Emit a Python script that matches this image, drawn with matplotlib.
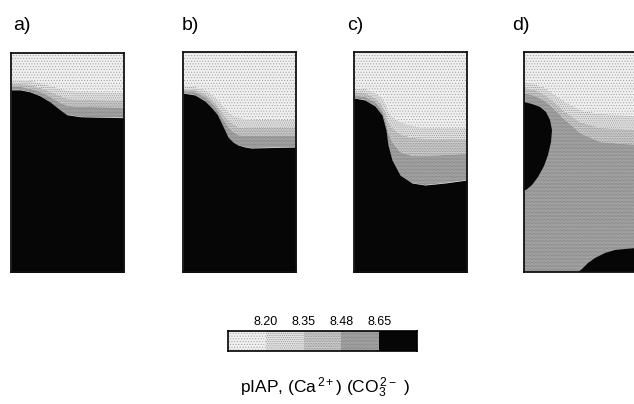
import numpy as np
import matplotlib
matplotlib.use("Agg")
import matplotlib.pyplot as plt

plt.rcParams['font.family'] = ['Liberation Sans', 'DejaVu Sans']
plt.rcParams['mathtext.fontset'] = 'custom'
plt.rcParams['mathtext.rm'] = 'Liberation Sans'
plt.rcParams['mathtext.it'] = 'Liberation Sans:italic'
plt.rcParams['hatch.linewidth'] = 0.4

# ---- data (panel units: x 0..113 across, depth 0..220 down) ----
tick_levels = [8.20, 8.35, 8.48, 8.65]
shades = ['#efefef', '#e0e0e0', '#cdcdcd', '#ababab', '#060606']
dots = ['#a0a0a0', '#909090', '#808080', '#707070', '#060606']
hatches = ['......', '........', '..........', '............', None]
panel_labels = ['a)', 'b)', 'c)', 'd)']

a_x    = [0, 9, 19, 29, 39, 49, 56, 69, 113]
a_820  = [27, 27, 28, 30, 33, 36, 38, 39, 40]
a_835  = [31, 31, 32, 35, 39, 43, 46, 47, 48]
a_848  = [34, 34, 36, 39, 44, 50, 53, 54, 55]
a_865  = [37, 37, 39, 43, 49, 57, 62, 64, 65]

b_x    = [0, 12, 22, 28, 34, 38, 45, 50, 55, 62, 68, 113]
b_820  = [34, 35, 38, 42, 47, 52, 60, 64, 66, 67, 68, 68]
b_835  = [37, 38, 42, 47, 53, 59, 68, 72, 75, 76, 76, 76]
b_848  = [39, 40, 45, 50, 57, 64, 75, 80, 83, 84, 84, 84]
b_865  = [41, 43, 49, 55, 62, 70, 85, 90, 93, 95, 96, 95]

c_x    = [0, 11, 21, 28, 32, 34, 38, 46, 58, 71, 91, 113]
c_820  = [36, 37, 41, 46, 53, 59, 65, 70, 74, 76, 76, 76]
c_835  = [40, 41, 46, 53, 62, 69, 76, 82, 86, 87, 87, 87]
c_848  = [43, 45, 50, 58, 70, 80, 90, 100, 104, 104, 103, 102]
c_865  = [46, 48, 54, 63, 78, 93, 108, 123, 131, 133, 131, 128]

d_x    = [0, 11, 21, 31, 41, 56, 76, 113]
d_820  = [30, 32, 36, 43, 50, 58, 62, 64]
d_835  = [36, 38, 43, 51, 60, 70, 76, 78]
d_848  = [41, 44, 49, 58, 68, 81, 90, 93]
d_blob1_x = [0, 8, 16, 22, 26, 28, 27, 24, 20, 14, 8, 2, 0]
d_blob1_y = [50, 52, 55, 60, 68, 78, 90, 103, 114, 125, 133, 138, 138]
d_blob2_x = [53, 58, 64, 71, 81, 91, 101, 113, 113]
d_blob2_y = [221, 217, 211, 206, 201, 198, 197, 196, 221]

W, H = 634, 404
fig = plt.figure(figsize=(W / 100, H / 100), dpi=100)

def px_axes(l, t, r, b):
    return fig.add_axes([l / W, 1 - b / H, (r - l) / W, (b - t) / H])

panel_boxes = [(11, 53, 124, 272), (183, 52, 296, 272),
               (354, 52, 467, 272), (524, 52, 637, 272)]
label_x = [13, 182, 347, 512]

def style(ax):
    ax.set_xlim(0, 113)
    ax.set_ylim(220, 0)
    ax.set_xticks([])
    ax.set_yticks([])
    for s in ax.spines.values():
        s.set_linewidth(1.3)
        s.set_color('#111111')
        s.set_zorder(5)

def band(ax, x, lo, hi, k):
    ax.fill_between(x, lo, hi, facecolor=shades[k], edgecolor=dots[k],
                    hatch=hatches[k], lw=0)

bands = [
    (a_x, [a_820, a_835, a_848, a_865]),
    (b_x, [b_820, b_835, b_848, b_865]),
    (c_x, [c_820, c_835, c_848, c_865]),
]
for i, (x, bnds) in enumerate(bands):
    ax = px_axes(*panel_boxes[i])
    edges = [np.zeros(len(x))] + [np.array(v) for v in bnds] + [np.full(len(x), 221)]
    for k in range(5):
        band(ax, x, edges[k], edges[k + 1], k)
    style(ax)

# panel d
ax = px_axes(*panel_boxes[3])
edges = [np.zeros(len(d_x)), np.array(d_820), np.array(d_835),
         np.array(d_848), np.full(len(d_x), 221)]
for k in range(4):
    band(ax, d_x, edges[k], edges[k + 1], k)
ax.fill(d_blob1_x, d_blob1_y, color=shades[4], lw=0)
ax.fill(d_blob2_x, d_blob2_y, color=shades[4], lw=0)
style(ax)

for lab, lx in zip(panel_labels, label_x):
    fig.text(lx / W, 1 - 30 / H, lab, fontsize=14, ha='left', va='baseline')

# colour bar
cax = px_axes(228, 331, 417, 351)
cax.set_xlim(0, 5)
cax.set_ylim(0, 1)
for k in range(5):
    cax.fill_between([k, k + 1], 0, 1, facecolor=shades[k], edgecolor=dots[k],
                     hatch=hatches[k], lw=0)
cax.set_xticks([1, 2, 3, 4])
cax.set_xticklabels([f'{v:.2f}' for v in tick_levels])
cax.set_yticks([])
cax.xaxis.set_ticks_position('top')
cax.tick_params(length=0, pad=2, labelsize=9)
for s in cax.spines.values():
    s.set_linewidth(1.2)
    s.set_zorder(5)

fig.text(325 / W, 1 - 388 / H, r'pIAP, (Ca$^{\,2+}$) (CO$_3^{\,2-}$ )',
         fontsize=12.5, ha='center', va='center')

fig.savefig('out.png', dpi=100)
